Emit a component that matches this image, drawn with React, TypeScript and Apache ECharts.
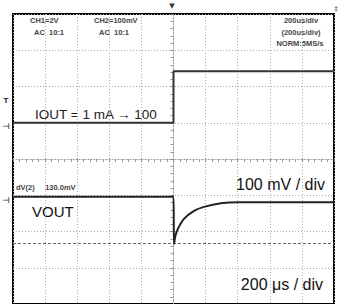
import React, { useEffect, useRef } from "react";
import * as echarts from "echarts";

// time in microseconds (200 us / div), amplitude in screen divisions
const ioutTime = [-1000, 0, 0, 1000];
const ioutDiv = [1.0, 1.0, 2.42, 2.42];

const voutTime = [-1000, 0, 3, 12, 28, 65, 128, 190, 296, 402, 1000];
const voutDiv = [-1.04, -1.04, -2.35, -2.12, -1.92, -1.65, -1.43, -1.32, -1.22, -1.19, -1.19];

const cursorDiv = [-2.33];

const xTicks = { min: -1000, max: 1000, interval: 200 };
const yTicks = { min: -4, max: 4, interval: 1 };

const ch1Label = ["CH1=2V", "AC  10:1"];
const ch2Label = ["CH2=100mV", "AC  10:1"];
const timebaseLabel = ["200us/div", "(200us/div)", "NORM:5MS/s"];
const measureLabel = "dV(2)     130.0mV";

export default function App() {
  const ref = useRef<HTMLDivElement>(null);
  useEffect(() => {
    if (!ref.current) return;
    const chart = echarts.init(ref.current, undefined, { renderer: "svg" });
    const grid = "#aaa";
    const small = 'bold 7.5px "Liberation Sans", Arial, sans-serif';
    const big = (s: number) => `${s}px "Liberation Sans", Arial, sans-serif`;
    const txt = (text: string, x: number, y: number, font: string, align = "left", fill = "#222") => ({
      type: "text",
      x,
      y,
      silent: true,
      style: { text, font, fill, align, verticalAlign: "middle" },
    });
    chart.setOption({
      animation: false,
      backgroundColor: "#fff",
      grid: {
        left: 13,
        top: 14,
        width: 321,
        height: 296,
        show: true,
        borderColor: "#000",
        borderWidth: 2,
        backgroundColor: "transparent",
      },
      xAxis: {
        type: "value",
        min: xTicks.min,
        max: xTicks.max,
        interval: xTicks.interval,
        axisLabel: { show: false },
        axisLine: { show: true, onZero: true, lineStyle: { color: "#999", type: [1, 2], width: 1 } },
        axisTick: { show: true, length: 3, lineStyle: { color: "#888" } },
        minorTick: { show: true, splitNumber: 5, length: 3, lineStyle: { color: "#999" } },
        splitLine: { show: true, lineStyle: { color: grid, type: [1, 2], width: 1 } },
      },
      yAxis: {
        type: "value",
        min: yTicks.min,
        max: yTicks.max,
        interval: yTicks.interval,
        axisLabel: { show: false },
        axisLine: { show: true, onZero: true, lineStyle: { color: "#999", type: [1, 2], width: 1 } },
        axisTick: { show: true, length: 3, lineStyle: { color: "#888" } },
        minorTick: { show: true, splitNumber: 5, length: 3, lineStyle: { color: "#999" } },
        splitLine: { show: true, lineStyle: { color: grid, type: [1, 2], width: 1 } },
      },
      series: [
        {
          type: "line",
          name: "IOUT",
          data: ioutTime.map((t, i) => [t, ioutDiv[i]]),
          showSymbol: false,
          lineStyle: { color: "#333", width: 2 },
          z: 5,
        },
        {
          type: "line",
          name: "VOUT",
          data: voutTime.map((t, i) => [t, voutDiv[i]]),
          showSymbol: false,
          smooth: 0.25,
          lineStyle: { color: "#222", width: 2 },
          z: 5,
          markLine: {
            silent: true,
            symbol: "none",
            label: { show: false },
            lineStyle: { color: "#666", type: [3, 2], width: 1 },
            data: cursorDiv.map((v) => ({ yAxis: v })),
          },
        },
      ],
      graphic: [
        txt(ch1Label[0], 30, 20, small, "left", "#444"),
        txt(ch1Label[1], 34, 32, small, "left", "#444"),
        txt(ch2Label[0], 94, 20, small, "left", "#444"),
        txt(ch2Label[1], 99, 32, small, "left", "#444"),
        txt(timebaseLabel[0], 301, 20, small, "center", "#444"),
        txt(timebaseLabel[1], 301, 32, small, "center", "#444"),
        txt(timebaseLabel[2], 300, 43, small, "center", "#444"),
        txt(measureLabel, 16, 187, small, "left", "#444"),
        txt("IOUT = 1 mA \u2192 100", 35, 114, big(13.5)),
        txt("100 mV / div", 325, 184, big(16), "right", "#111"),
        txt("VOUT", 32, 211, big(15), "left", "#111"),
        txt("200 \u03bcs / div", 323, 284, big(16), "right", "#111"),
        // channel / trigger markers
        txt("\u25bc", 172, 6, '7px "DejaVu Sans"', "center", "#333"),
        txt("\u2021", 336, 9, '7px "DejaVu Sans"', "center", "#555"),
        txt("T", 6, 101, 'bold 7px "DejaVu Sans"', "center", "#333"),
        txt("\u22a3", 6, 126, 'bold 8px "DejaVu Sans"', "center", "#444"),
        txt("\u22a3", 6, 200, 'bold 8px "DejaVu Sans"', "center", "#444"),
      ],
    });
    return () => chart.dispose();
  }, []);
  return (
    <div
      ref={ref}
      style={{ position: "fixed", left: 0, top: 0, width: 342, height: 304, background: "#fff" }}
    />
  );
}
